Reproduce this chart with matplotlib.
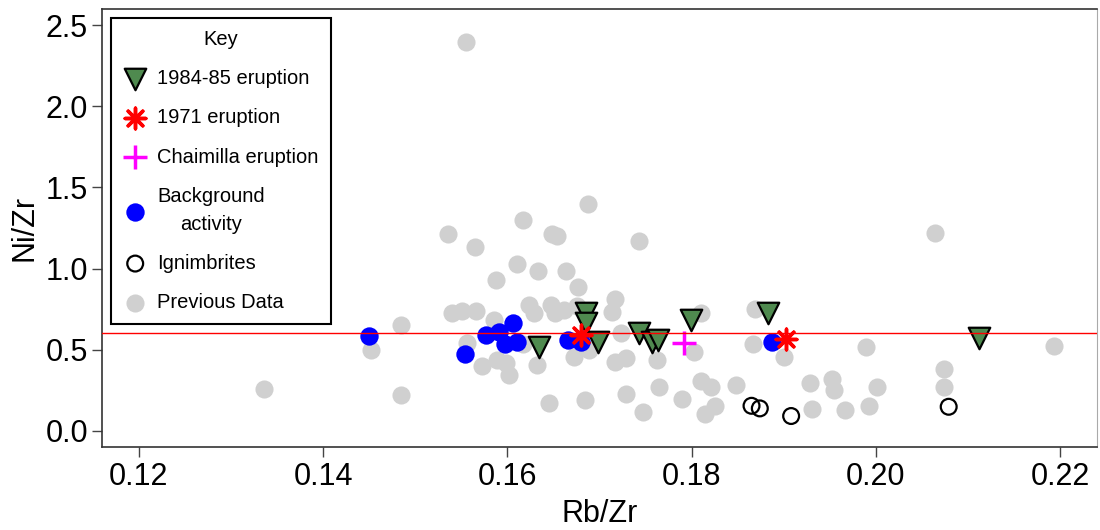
import matplotlib
matplotlib.use("Agg")
import matplotlib.pyplot as plt

plt.rcParams['font.family'] = ['Liberation Sans', 'DejaVu Sans']

# Previous data (grey)
prev_rb = [0.1536, 0.1540, 0.1551, 0.1485, 0.1452, 0.1336, 0.1485, 0.1556,
           0.1687, 0.1617, 0.1648, 0.1654, 0.1743, 0.1565, 0.1611, 0.1588,
           0.1633, 0.1664, 0.1677, 0.1717, 0.1714, 0.1566, 0.1623, 0.1629,
           0.1647, 0.1652, 0.1662, 0.1676, 0.1586, 0.1573, 0.1589, 0.1598,
           0.1602, 0.1617, 0.1632, 0.1645, 0.1672, 0.1689, 0.1684, 0.1723,
           0.1717, 0.1729, 0.1729, 0.1747, 0.1765, 0.1762, 0.1810, 0.1803,
           0.1790, 0.1810, 0.1821, 0.1825, 0.1814, 0.1848, 0.1869, 0.1867,
           0.1900, 0.1929, 0.1931, 0.1952, 0.1955, 0.1966, 0.1993, 0.2001,
           0.1989, 0.2064, 0.2193, 0.2074, 0.2074, 0.1555]
prev_ni = [1.216, 0.727, 0.739, 0.651, 0.497, 0.255, 0.220, 0.540,
           1.401, 1.298, 1.212, 1.200, 1.169, 1.130, 1.031, 0.929,
           0.986, 0.986, 0.884, 0.811, 0.733, 0.737, 0.775, 0.723,
           0.775, 0.723, 0.744, 0.768, 0.682, 0.399, 0.436, 0.419,
           0.343, 0.538, 0.405, 0.172, 0.456, 0.497, 0.189, 0.600,
           0.425, 0.446, 0.224, 0.117, 0.271, 0.436, 0.727, 0.487,
           0.193, 0.306, 0.271, 0.152, 0.101, 0.282, 0.748, 0.534,
           0.456, 0.292, 0.132, 0.317, 0.251, 0.128, 0.152, 0.271,
           0.518, 1.222, 0.522, 0.378, 0.267, 2.397]

# Background activity
bg_rb = [0.1450, 0.1554, 0.1606, 0.1577, 0.1591, 0.1597, 0.1611, 0.1666, 0.1680, 0.1887]
bg_ni = [0.583, 0.471, 0.662, 0.590, 0.610, 0.534, 0.548, 0.559, 0.548, 0.545]

# 1984-85 eruption
e84_rb = [0.1634, 0.1685, 0.1685, 0.1698, 0.1743, 0.1757, 0.1764, 0.1799, 0.1883, 0.2112]
e84_ni = [0.518, 0.723, 0.662, 0.548, 0.600, 0.548, 0.559, 0.682, 0.729, 0.575]

# 1971 eruption
e71_rb = [0.1680, 0.1902]
e71_ni = [0.590, 0.563]

# Chaimilla eruption
cha_rb = [0.1792]
cha_ni = [0.542]

# Ignimbrites
ign_rb = [0.1865, 0.1874, 0.1908, 0.2079]
ign_ni = [0.154, 0.138, 0.091, 0.148]

ref_line = 0.6

fig = plt.figure(figsize=(11, 5.3), dpi=100)
ax = fig.add_axes([0.0927, 0.1566, 0.9046, 0.8264])

prev = ax.scatter(prev_rb, prev_ni, s=170, color='#d0d0d0', linewidths=0, zorder=2)
bg = ax.scatter(bg_rb, bg_ni, s=175, color='#0000ff', linewidths=0, zorder=3)
e84 = ax.scatter(e84_rb, e84_ni, s=240, marker='v', facecolor='#4f8a4f',
                 edgecolor='black', linewidths=1.6, zorder=4)
e71 = ax.scatter(e71_rb, e71_ni, s=220, marker=(8, 2, 0), color='red',
                 linewidths=2.5, zorder=5)
cha = ax.scatter(cha_rb, cha_ni, s=320, marker='+', color='#ff00ff',
                 linewidths=2.5, zorder=5)
ign = ax.scatter(ign_rb, ign_ni, s=130, facecolor='none', edgecolor='black',
                 linewidths=1.6, zorder=5)
ax.axhline(ref_line, color='red', lw=1, zorder=6)

ax.set_xlim(0.116, 0.224)
ax.set_ylim(-0.1, 2.6)
ax.set_xticks([0.12, 0.14, 0.16, 0.18, 0.20, 0.22])
ax.set_xticklabels(['0.12', '0.14', '0.16', '0.18', '0.20', '0.22'])
ax.set_yticks([0.0, 0.5, 1.0, 1.5, 2.0, 2.5])
ax.set_yticklabels(['0.0', '0.5', '1.0', '1.5', '2.0', '2.5'])
ax.tick_params(labelsize=22, length=7, width=1, color='#444444', direction='out')
ax.tick_params(axis='y', pad=3)
ax.set_xlabel('Rb/Zr', fontsize=22, labelpad=5)
ax.set_ylabel('Ni/Zr', fontsize=22, labelpad=4)

for side in ['left', 'bottom', 'top']:
    ax.spines[side].set_color('#333333')
    ax.spines[side].set_linewidth(1.2)
ax.spines['right'].set_color('#aaaaaa')

leg = ax.legend([e84, e71, cha, bg, ign, prev],
                ['1984-85 eruption', '1971 eruption', 'Chaimilla eruption',
                 'Background\nactivity', 'Ignimbrites', 'Previous Data'],
                title='Key', loc='upper left', fontsize=14.5, title_fontsize=14.5,
                frameon=True, fancybox=False, edgecolor='black',
                borderaxespad=0.45, labelspacing=1.0, handletextpad=0.5,
                handlelength=1.2, borderpad=0.6, framealpha=1)
leg.get_frame().set_linewidth(1.5)
for t in leg.get_texts():
    t.set_multialignment('center')
    t.set_linespacing(1.6)
leg.set_zorder(10)

fig.savefig('out.png', dpi=100)
